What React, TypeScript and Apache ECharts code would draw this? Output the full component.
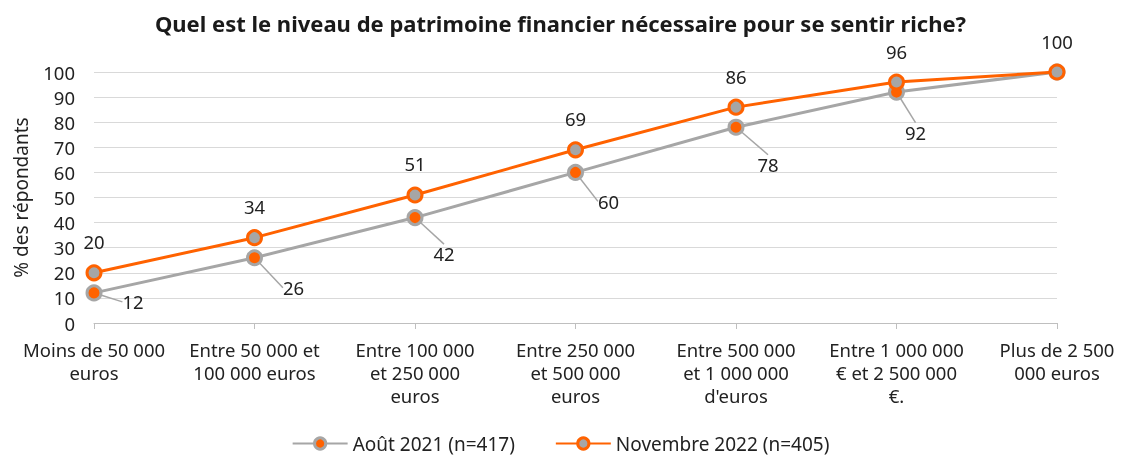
import React, { useEffect, useRef } from "react";
import * as echarts from "echarts";

const categories = [
  "Moins de 50 000\neuros",
  "Entre 50 000 et\n100 000 euros",
  "Entre 100 000\net 250 000\neuros",
  "Entre 250 000\net 500 000\neuros",
  "Entre 500 000\net 1 000 000\nd'euros",
  "Entre 1 000 000\n€ et 2 500 000\n€.",
  "Plus de 2 500\n000 euros",
];
const aout2021 = [12, 26, 42, 60, 78, 92, 100];
const nov2022 = [20, 34, 51, 69, 86, 96, 100];
const seriesNames = ["Août 2021 (n=417)", "Novembre 2022 (n=405)"];
const yTicks = { min: 0, max: 100, interval: 10 };

// label offsets for the grey series (dx, dy from the point)
const greyLabelOffsets = [
  [39, 9],
  [39, 30],
  [29, 36],
  [33, 29],
  [32, 37],
  [19, 40],
];

const ORANGE = "#FF6200";
const GREY = "#A6A6A6";
const FONT = "Noto Sans";
const FS = 18.5;

export default function App() {
  const ref = useRef<HTMLDivElement>(null);
  useEffect(() => {
    const chart = echarts.init(ref.current!, null, { renderer: "svg" });
    chart.setOption({
      animation: false,
      textStyle: { fontFamily: FONT },
      title: {
        text: "Quel est le niveau de patrimoine financier nécessaire pour se sentir riche?",
        left: "center",
        top: 6,
        padding: [4, 5, 2, 5],
        textStyle: { fontFamily: FONT, fontSize: 22, fontWeight: "bold", color: "#1a1a1a", lineHeight: 26 },
      },
      legend: {
        bottom: 3,
        left: "center",
        itemWidth: 55,
        itemHeight: 14,
        itemGap: 40,
        textStyle: { fontFamily: FONT, fontSize: 19, color: "#222" },
        data: [
          { name: seriesNames[0], itemStyle: { color: ORANGE, borderColor: GREY, borderWidth: 3 } },
          { name: seriesNames[1], itemStyle: { color: GREY, borderColor: ORANGE, borderWidth: 3 } },
        ],
      },
      grid: { left: 94, right: 64, top: 72, bottom: 138 },
      xAxis: {
        type: "category",
        boundaryGap: false,
        data: categories,
        axisLine: { lineStyle: { color: "#BFBFBF", width: 1 } },
        axisTick: { show: true, alignWithLabel: true, length: 6, lineStyle: { color: "#BFBFBF" } },
        axisLabel: {
          interval: 0,
          margin: 15,
          fontSize: FS,
          lineHeight: 23,
          color: "#222",
          fontFamily: FONT,
        },
        splitLine: { show: false },
      },
      yAxis: {
        type: "value",
        min: yTicks.min,
        max: yTicks.max,
        interval: yTicks.interval,
        name: "% des répondants",
        nameLocation: "middle",
        nameGap: 64,
        nameTextStyle: { fontSize: 19, color: "#222", fontFamily: FONT },
        axisLine: { show: false },
        axisTick: { show: false },
        axisLabel: { fontSize: FS, color: "#222", margin: 19, fontFamily: FONT },
        splitLine: { lineStyle: { color: "#D9D9D9", width: 1 } },
      },
      series: [
        {
          name: seriesNames[0],
          type: "line",
          data: aout2021.map((v, i) => ({
            value: v,
            label: {
              show: i < aout2021.length - 1,
            },
          })),
          symbol: "circle",
          symbolSize: 14,
          lineStyle: { color: GREY, width: 3 },
          itemStyle: { color: ORANGE, borderColor: GREY, borderWidth: 3 },
          label: {
            show: true,
            position: "inside",
            fontSize: FS,
            color: "#222",
            fontFamily: FONT,
          },
          labelLine: { show: true, lineStyle: { color: GREY, width: 1.5 } },
          labelLayout: (params: any) => {
            const o = greyLabelOffsets[params.dataIndex] || [0, 0];
            return { dx: o[0], dy: o[1] };
          },
          z: 2,
        },
        {
          name: seriesNames[1],
          type: "line",
          data: nov2022,
          symbol: "circle",
          symbolSize: 14,
          lineStyle: { color: ORANGE, width: 3 },
          itemStyle: { color: GREY, borderColor: ORANGE, borderWidth: 3 },
          label: {
            show: true,
            position: "top",
            distance: 13,
            fontSize: FS,
            color: "#222",
            fontFamily: FONT,
          },
          z: 3,
        },
      ],
    });
    return () => chart.dispose();
  }, []);
  return (
    <div
      ref={ref}
      style={{ position: "fixed", left: 0, top: 0, width: 1121, height: 461 }}
    />
  );
}
